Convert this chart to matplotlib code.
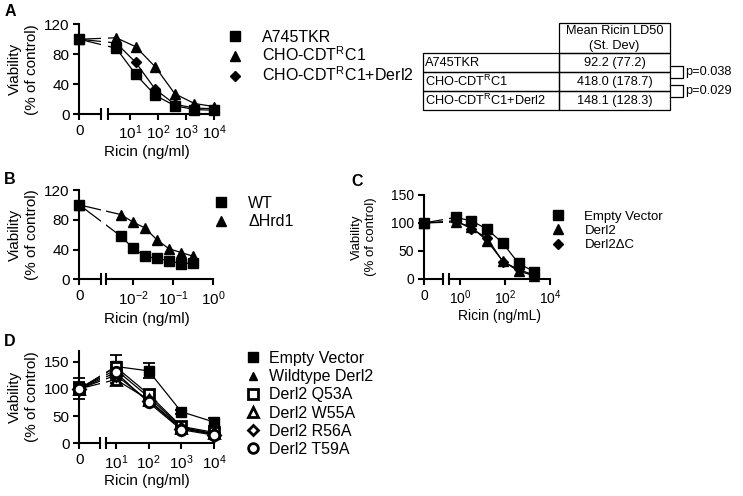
import numpy as np
import matplotlib
matplotlib.use("Agg")
import matplotlib.pyplot as plt
from matplotlib.lines import Line2D
from matplotlib.patches import Rectangle

plt.rcParams['font.family'] = ['Liberation Sans', 'DejaVu Sans']
plt.rcParams['mathtext.fontset'] = 'custom'
plt.rcParams['mathtext.rm'] = 'Liberation Sans'
plt.rcParams['mathtext.it'] = 'Liberation Sans:italic'
plt.rcParams['mathtext.bf'] = 'Liberation Sans:bold'

# ---------------- data ----------------
# Panel A
A_conc = [0, 3.2, 16, 80, 400, 2000, 10000]
A_a745 = [100, 88, 53, 25, 11, 6, 5]
A_cho = [100, 102, 90, 63, 27, 14, 10]
A_derl2 = [100, 95, 69, 33, 13, 8, 7]
A_labels = ["A745TKR", "CHO-CDT$^{\\mathregular{R}}$C1", "CHO-CDT$^{\\mathregular{R}}$C1+Derl2"]
A_xticks = [10, 100, 1000, 10000]
A_xticklabels = ["$\\mathregular{10^{1}}$", "$\\mathregular{10^{2}}$", "$\\mathregular{10^{3}}$", "$\\mathregular{10^{4}}$"]

# table in panel A
table_header = "Mean Ricin LD50\n(St. Dev)"
table_rows = ["A745TKR", "CHO-CDT$^{\\mathregular{R}}$C1", "CHO-CDT$^{\\mathregular{R}}$C1+Derl2"]
table_values = ["92.2 (77.2)", "418.0 (178.7)", "148.1 (128.3)"]
p_values = ["p=0.038", "p=0.029"]

# Panel B
B_conc = [0, 0.0048828, 0.0097656, 0.0195313, 0.0390625, 0.078125, 0.15625, 0.3125]
B_wt = [100, 58, 42, 31, 28, 25, 21, 22]
B_hrd1 = [100, 87, 77, 69, 53, 41, 36, 31]
B_labels = ["WT", "ΔHrd1"]
B_xticks = [0.01, 0.1, 1]
B_xticklabels = ["$\\mathregular{10^{-2}}$", "$\\mathregular{10^{-1}}$", "$\\mathregular{10^{0}}$"]

# Panel C
C_conc = [0, 0.64, 3.2, 16, 80, 400, 2000]
C_ev = [100, 110, 104, 89, 64, 28, 13]
C_derl2 = [100, 102, 93, 68, 32, 14, 6]
C_dc = [100, 104, 90, 73, 31, 17, 7]
C_labels = ["Empty Vector", "Derl2", "Derl2ΔC"]
C_xticks = [1, 100, 10000]
C_xticklabels = ["$\\mathregular{10^{0}}$", "$\\mathregular{10^{2}}$", "$\\mathregular{10^{4}}$"]

# Panel D
D_conc = [0, 10, 100, 1000, 10000]
D_ev = [100, 141, 133, 58, 39]
D_ev_err = [19, 21, 14, 4, 7]
D_wt = [100, 135, 85, 30, 17]
D_wt_err = [10, 8, 6, 4, 4]
D_q53 = [100, 140, 90, 31, 20]
D_q53_err = [12, 10, 8, 5, 5]
D_w55 = [100, 117, 80, 28, 18]
D_w55_err = [10, 6, 6, 4, 4]
D_r56 = [100, 125, 78, 27, 16]
D_r56_err = [10, 8, 6, 4, 4]
D_t59 = [100, 130, 75, 25, 15]
D_t59_err = [10, 8, 6, 4, 4]
D_labels = ["Empty Vector", "Wildtype Derl2", "Derl2 Q53A", "Derl2 W55A", "Derl2 R56A", "Derl2 T59A"]
D_xticks = [10, 100, 1000, 10000]
D_xticklabels = A_xticklabels

# ---------------- figure ----------------
W, H = 743, 496
fig = plt.figure(figsize=(W / 100, H / 100), dpi=100)

canvas = fig.add_axes([0, 0, 1, 1])
canvas.set_xlim(0, W)
canvas.set_ylim(H, 0)
canvas.axis('off')


def px_axes(x0, x1, ytop, ybot):
    ax = fig.add_axes([x0 / W, 1 - ybot / H, (x1 - x0) / W, (ybot - ytop) / H])
    ax.patch.set_alpha(0)
    return ax


def make_funcs(z0):
    floor = 10.0 ** z0

    def fwd(x):
        return np.log10(np.clip(np.asarray(x, dtype=float), floor, None))

    def inv(y):
        return 10.0 ** np.asarray(y, dtype=float)
    return fwd, inv


def setup_panel(x_y, xl_end, xr_start, x_end, ytop, ybot, zmax, d, ylim, yticks,
                xticks, xticklabels, fs):
    z0 = zmax - (x_end - x_y) / d
    b1 = zmax - (x_end - xl_end) / d
    b2 = zmax - (x_end - xr_start) / d
    axL = px_axes(x_y, xl_end, ytop, ybot)
    axR = px_axes(xr_start, x_end, ytop, ybot)
    fwd, inv = make_funcs(z0)
    for ax in (axL, axR):
        ax.set_xscale('function', functions=(fwd, inv))
        ax.set_ylim(*ylim)
        for s in ('top', 'right'):
            ax.spines[s].set_visible(False)
        for s in ('left', 'bottom'):
            ax.spines[s].set_linewidth(1.5)
        ax.tick_params(direction='out', length=4, width=1.5, labelsize=fs, pad=3)
        ax.minorticks_off()
    axL.set_yticks(yticks)
    axL.set_xticks([0])
    axL.set_xticklabels(['0'])
    axL.set_xlim(0, 10 ** b1)
    axR.set_xticks(xticks)
    axR.set_xticklabels(xticklabels)
    axR.set_xlim(10 ** b2, 10 ** zmax)
    axR.minorticks_off()
    axR.spines['left'].set_visible(False)
    axR.tick_params(axis='y', left=False, labelleft=False)
    # break marks
    axL.plot([1], [0], marker='|', markersize=9, mew=1.5, color='k',
             transform=axL.transAxes, clip_on=False)
    axR.plot([0], [0], marker='|', markersize=9, mew=1.5, color='k',
             transform=axR.transAxes, clip_on=False)
    return axL, axR


def draw_series(axL, axR, x, y, marker, ms, mfc='k', mew=1.0, yerr=None, lw=0.9):
    x = np.asarray(x, dtype=float)
    y = np.asarray(y, dtype=float)
    for ax in (axL, axR):
        ax.plot(x, y, color='k', lw=lw, clip_on=True, zorder=2)
    if yerr is not None:
        yerr = np.asarray(yerr, dtype=float)
        axL.errorbar(x[:1], y[:1], yerr=yerr[:1], fmt='none', ecolor='k', elinewidth=1.3,
                     capsize=4, capthick=1.3, clip_on=False, zorder=3)
        axR.errorbar(x[1:], y[1:], yerr=yerr[1:], fmt='none', ecolor='k', elinewidth=1.3,
                     capsize=4, capthick=1.3, clip_on=False, zorder=3)
    axL.plot(x[:1], y[:1], ls='none', marker=marker, ms=ms, mfc=mfc, mec='k', mew=mew,
             clip_on=False, zorder=4)
    axR.plot(x[1:], y[1:], ls='none', marker=marker, ms=ms, mfc=mfc, mec='k', mew=mew,
             clip_on=False, zorder=4)


def add_legend(specs, labels, x_marker, top, fs, spacing, textpad):
    handles = [Line2D([], [], ls='none', marker=m, ms=s, mfc=fc, mec='k', mew=ew, color='k')
               for (m, s, fc, ew) in specs]
    hl = 1.0
    hl_px = hl * fs * 100 / 72
    leg = fig.legend(handles, labels, loc='upper left',
                     bbox_to_anchor=((x_marker - hl_px / 2) / W, 1 - top / H),
                     frameon=False, fontsize=fs, handlelength=hl, handletextpad=textpad,
                     borderpad=0, borderaxespad=0, labelspacing=spacing, handleheight=0.7)
    return leg


def ylabel(ax, fs, pad):
    ax.set_ylabel("Viability\n(% of control)", fontsize=fs, labelpad=pad, linespacing=1.25)


# ---------------- Panel A ----------------
aL, aR = setup_panel(79.3, 101, 107.7, 214, 24.3, 114, 4, 28.0, (0, 120), [0, 40, 80, 120],
                     A_xticks, A_xticklabels, 11)
draw_series(aL, aR, A_conc, A_a745, 's', 6.5)
draw_series(aL, aR, A_conc, A_cho, '^', 7)
draw_series(aL, aR, A_conc, A_derl2, 'D', 5)
ylabel(aL, 11, 4)
canvas.text(147, 152, "Ricin (ng/ml)", fontsize=11, ha='center', va='center')
canvas.text(10, 12, "A", fontsize=11.5, fontweight='bold', ha='center', va='center')
add_legend([('s', 7, 'k', 1), ('^', 7, 'k', 1), ('D', 5.5, 'k', 1)], A_labels, 235, 29.5, 11.5, 0.08, 1.2)

# table
col0, col1, col2 = 422.7, 559, 670
hdr_top, row_top, row_h = 23, 53.3, 18.9
tfs = 9.2
canvas.add_patch(Rectangle((col1, hdr_top), col2 - col1, row_top - hdr_top, fill=False, lw=0.9, ec='k'))
canvas.text((col1 + col2) / 2, (hdr_top + row_top) / 2, table_header, fontsize=tfs,
            ha='center', va='center', linespacing=1.3)
for i, (name, val) in enumerate(zip(table_rows, table_values)):
    yt = row_top + i * row_h
    canvas.add_patch(Rectangle((col0, yt), col1 - col0, row_h, fill=False, lw=0.9, ec='k'))
    canvas.add_patch(Rectangle((col1, yt), col2 - col1, row_h, fill=False, lw=0.9, ec='k'))
    canvas.text(col0 + 2, yt + row_h / 2, name, fontsize=tfs, ha='left', va='center')
    canvas.text((col1 + col2) / 2, yt + row_h / 2, val, fontsize=tfs, ha='center', va='center')
for i, p in enumerate(p_values):
    yc = row_top + (i + 1) * row_h
    y0b, y1b = yc - 5.8 - 0.5 * row_h + 9.45, yc + 5.8 - 0.5 * row_h + 9.45
    canvas.plot([col2, 683, 683, col2], [y0b, y0b, y1b, y1b], color='k', lw=0.9)
    canvas.text(685, (y0b + y1b) / 2, p, fontsize=tfs, ha='left', va='center')

# ---------------- Panel B ----------------
bL, bR = setup_panel(79.3, 101, 106, 213.3, 190, 279.3, 0, 40.0, (0, 120), [0, 40, 80, 120],
                     B_xticks, B_xticklabels, 11)
draw_series(bL, bR, B_conc, B_wt, 's', 7.5)
draw_series(bL, bR, B_conc, B_hrd1, '^', 7.5)
ylabel(bL, 11, 4)
canvas.text(147, 319, "Ricin (ng/ml)", fontsize=11, ha='center', va='center')
canvas.text(10, 180, "B", fontsize=11.5, fontweight='bold', ha='center', va='center')
add_legend([('s', 7.5, 'k', 1), ('^', 7.5, 'k', 1)], B_labels, 221, 195.5, 11.5, 0.23, 1.2)

# ---------------- Panel C ----------------
cL, cR = setup_panel(424, 443.3, 449.3, 550, 195, 279, 4, 22.5, (0, 150), [0, 50, 100, 150],
                     C_xticks, C_xticklabels, 10)
draw_series(cL, cR, C_conc, C_ev, 's', 6.5)
draw_series(cL, cR, C_conc, C_derl2, '^', 6.5)
draw_series(cL, cR, C_conc, C_dc, 'D', 5)
ylabel(cL, 9.5, 10)
canvas.text(500, 316, "Ricin (ng/mL)", fontsize=10, ha='center', va='center')
canvas.text(357, 181, "C", fontsize=11.5, fontweight='bold', ha='center', va='center')
add_legend([('s', 7, 'k', 1), ('^', 7, 'k', 1), ('D', 5.5, 'k', 1)], C_labels, 558, 210.5, 9.5, 0.16, 1.5)

# ---------------- Panel D ----------------
dL, dR = setup_panel(79.3, 100, 106, 214, 350.7, 443.3, 4, 32.7, (0, 170), [0, 50, 100, 150],
                     D_xticks, D_xticklabels, 11)
draw_series(dL, dR, D_conc, D_ev, 's', 7, yerr=D_ev_err)
draw_series(dL, dR, D_conc, D_wt, '^', 6.5, yerr=D_wt_err)
draw_series(dL, dR, D_conc, D_q53, 's', 7, mfc='white', mew=2, yerr=D_q53_err)
draw_series(dL, dR, D_conc, D_w55, '^', 7, mfc='white', mew=2, yerr=D_w55_err)
draw_series(dL, dR, D_conc, D_r56, 'D', 6, mfc='white', mew=2, yerr=D_r56_err)
draw_series(dL, dR, D_conc, D_t59, 'o', 7.5, mfc='white', mew=2, yerr=D_t59_err)
ylabel(dL, 11, 4)
canvas.text(147, 481, "Ricin (ng/ml)", fontsize=11, ha='center', va='center')
canvas.text(10, 341, "D", fontsize=11.5, fontweight='bold', ha='center', va='center')
add_legend([('s', 6.5, 'k', 1), ('^', 5.5, 'k', 1), ('s', 6.5, 'white', 2),
            ('^', 6.5, 'white', 2), ('D', 5.5, 'white', 2), ('o', 7, 'white', 2)],
           D_labels, 253, 351, 11.5, 0.2, 0.5)

fig.savefig("out.png", dpi=100)
